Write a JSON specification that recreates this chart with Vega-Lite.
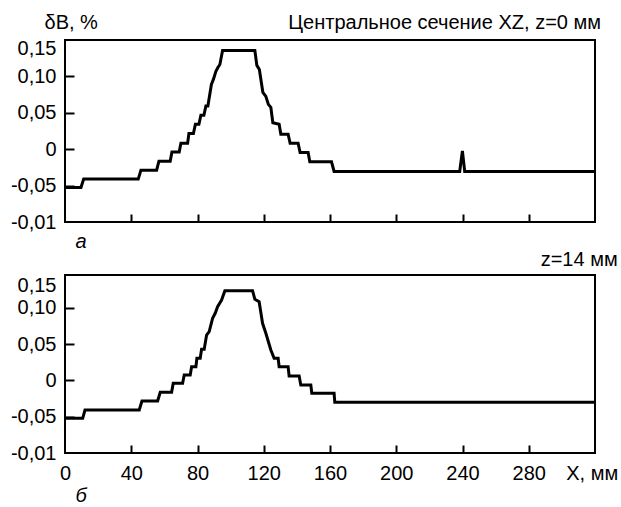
{
  "$schema": "https://vega.github.io/schema/vega-lite/v6.json",
  "background": "white",
  "padding": {"left": 9, "top": 11, "right": 2, "bottom": 2},
  "bounds": "flush",
  "spacing": 53,
  "config": {
    "font": "Liberation Sans",
    "view": {"stroke": "black", "strokeWidth": 2},
    "axis": {
      "domain": false, "grid": false, "tickColor": "black", "tickWidth": 2,
      "labelColor": "black", "labelFont": "Liberation Sans", "labelFontSize": 20,
      "titleFont": "Liberation Sans", "titleFontSize": 20, "titleFontWeight": "normal", "titleColor": "black"
    },
    "title": {"font": "Liberation Sans", "fontSize": 20, "fontWeight": "normal", "color": "black", "anchor": "end"}
  },
  "vconcat": [
    {
      "width": 530,
      "height": 182,
      "title": {"text": "Центральное сечение XZ, z=0 мм", "anchor": "end", "baseline": "middle", "offset": -30},
      "data": {"values": [
        {"x": 0, "y": -0.0525}, {"x": 9.65, "y": -0.0525}, {"x": 11.28, "y": -0.0411}, {"x": 44.22, "y": -0.0411},
        {"x": 45.85, "y": -0.0288}, {"x": 55.32, "y": -0.0288}, {"x": 56.71, "y": -0.0164}, {"x": 63.53, "y": -0.0164},
        {"x": 64.56, "y": -0.0037}, {"x": 68.96, "y": -0.0037}, {"x": 69.98, "y": 0.0082}, {"x": 74.03, "y": 0.0082},
        {"x": 74.81, "y": 0.0215}, {"x": 77.53, "y": 0.0215}, {"x": 78.73, "y": 0.0343}, {"x": 80.85, "y": 0.0343},
        {"x": 82.05, "y": 0.0466}, {"x": 83.86, "y": 0.0466}, {"x": 85.07, "y": 0.0593}, {"x": 86.27, "y": 0.0593},
        {"x": 88.39, "y": 0.089}, {"x": 89.59, "y": 0.0959}, {"x": 91.1, "y": 0.1069}, {"x": 92.31, "y": 0.1123},
        {"x": 93.51, "y": 0.1164}, {"x": 95.14, "y": 0.1356}, {"x": 114.63, "y": 0.1356}, {"x": 115.84, "y": 0.1151},
        {"x": 117.35, "y": 0.1096}, {"x": 119.46, "y": 0.0781}, {"x": 121.27, "y": 0.0726}, {"x": 122.78, "y": 0.0616},
        {"x": 124.28, "y": 0.0575}, {"x": 125.49, "y": 0.0363}, {"x": 129.29, "y": 0.0343}, {"x": 130.32, "y": 0.0205},
        {"x": 134.72, "y": 0.0205}, {"x": 135.93, "y": 0.0082}, {"x": 140.75, "y": 0.0082}, {"x": 141.96, "y": -0.0045},
        {"x": 146.79, "y": -0.0045}, {"x": 147.81, "y": -0.0174}, {"x": 160.91, "y": -0.0174}, {"x": 162.47, "y": -0.0305},
        {"x": 238.31, "y": -0.0305}, {"x": 239.94, "y": -0.0023}, {"x": 241.33, "y": -0.0305}, {"x": 320, "y": -0.0305}
      ]},
      "mark": {"type": "line", "color": "black", "strokeWidth": 3, "strokeJoin": "miter"},
      "encoding": {
        "x": {
          "field": "x", "type": "quantitative",
          "scale": {"domain": [0, 320], "nice": false, "zero": false},
          "axis": {
            "values": [40, 80, 120, 160, 200, 240, 280], "labels": false, "tickSize": 8, "offset": -8,
            "title": "а", "titleFontStyle": "italic", "titleAlign": "left", "titleBaseline": "middle",
            "titleX": 10, "titleY": 27
          }
        },
        "y": {
          "field": "y", "type": "quantitative",
          "scale": {"domain": [-0.1, 0.15], "nice": false, "zero": false},
          "axis": {
            "values": [-0.1, -0.05, 0, 0.05, 0.1, 0.138], "tickSize": 9, "offset": -9, "labelPadding": 9,
            "labelOverlap": false, "labelBound": false, "labelFlush": false,
            "tickOpacity": {"condition": {"test": "datum.value > 0.12 || datum.value < -0.09", "value": 0}, "value": 1},
            "labelExpr": "datum.value === 0 ? '0' : datum.value < -0.07 ? '-0,01' : datum.value < 0 ? '-0,05' : datum.value > 0.12 ? '0,15' : datum.value > 0.07 ? '0,10' : '0,05'",
            "title": "δB, %", "titleAngle": 0, "titleAlign": "left", "titleBaseline": "middle",
            "titleX": -30, "titleY": -17.5
          }
        }
      }
    },
    {
      "width": 530,
      "height": 178,
      "title": {"text": "z=14 мм", "anchor": "end", "baseline": "middle", "offset": -5},
      "data": {"values": [
        {"x": 0, "y": -0.0523}, {"x": 10.68, "y": -0.0523}, {"x": 12.07, "y": -0.0408}, {"x": 44.83, "y": -0.0408},
        {"x": 46.46, "y": -0.0284}, {"x": 55.93, "y": -0.0284}, {"x": 57.5, "y": -0.0165}, {"x": 64.37, "y": -0.0165},
        {"x": 65.34, "y": -0.0041}, {"x": 71.01, "y": -0.0041}, {"x": 71.98, "y": 0.0073}, {"x": 75.6, "y": 0.0073},
        {"x": 76.44, "y": 0.0188}, {"x": 79.03, "y": 0.0188}, {"x": 79.64, "y": 0.0303}, {"x": 81.63, "y": 0.0303},
        {"x": 82.47, "y": 0.0427}, {"x": 84.04, "y": 0.0427}, {"x": 85.49, "y": 0.0624}, {"x": 87.06, "y": 0.067},
        {"x": 89.11, "y": 0.0854}, {"x": 90.68, "y": 0.0923}, {"x": 92.13, "y": 0.1014}, {"x": 94.54, "y": 0.1106},
        {"x": 96.53, "y": 0.1234}, {"x": 113.24, "y": 0.1234}, {"x": 114.63, "y": 0.1116}, {"x": 117.22, "y": 0.1083},
        {"x": 119.28, "y": 0.0785}, {"x": 121.27, "y": 0.0648}, {"x": 124.28, "y": 0.0418}, {"x": 126.27, "y": 0.0303},
        {"x": 128.69, "y": 0.0303}, {"x": 129.29, "y": 0.0188}, {"x": 134.72, "y": 0.0188}, {"x": 135.32, "y": 0.006},
        {"x": 141.36, "y": 0.006}, {"x": 142.38, "y": -0.0064}, {"x": 148.42, "y": -0.0064}, {"x": 149.02, "y": -0.0178},
        {"x": 162.47, "y": -0.0178}, {"x": 162.9, "y": -0.0302}, {"x": 320, "y": -0.0302}
      ]},
      "mark": {"type": "line", "color": "black", "strokeWidth": 3, "strokeJoin": "miter"},
      "encoding": {
        "x": {
          "field": "x", "type": "quantitative",
          "scale": {"domain": [0, 320], "nice": false, "zero": false},
          "axis": {
            "values": [0, 40, 80, 120, 160, 200, 240, 280, 318], "tickSize": 8, "offset": -8, "labelPadding": 10,
            "labelOverlap": false, "labelBound": false, "labelFlush": false,
            "tickOpacity": {"condition": {"test": "datum.value > 300 || datum.value < 1", "value": 0}, "value": 1},
            "labelExpr": "datum.value > 300 ? 'X, мм' : datum.label",
            "title": "б", "titleFontStyle": "italic", "titleAlign": "left", "titleBaseline": "middle",
            "titleX": 10, "titleY": 50
          }
        },
        "y": {
          "field": "y", "type": "quantitative",
          "scale": {"domain": [-0.1, 0.145], "nice": false, "zero": false},
          "axis": {
            "values": [-0.1, -0.05, 0, 0.05, 0.1, 0.131], "tickSize": 9, "offset": -9, "labelPadding": 9,
            "labelOverlap": false, "labelBound": false, "labelFlush": false,
            "tickOpacity": {"condition": {"test": "datum.value > 0.12 || datum.value < -0.09", "value": 0}, "value": 1},
            "labelExpr": "datum.value === 0 ? '0' : datum.value < -0.07 ? '-0,01' : datum.value < 0 ? '-0,05' : datum.value > 0.12 ? '0,15' : datum.value > 0.07 ? '0,10' : '0,05'",
            "title": null
          }
        }
      }
    }
  ]
}
